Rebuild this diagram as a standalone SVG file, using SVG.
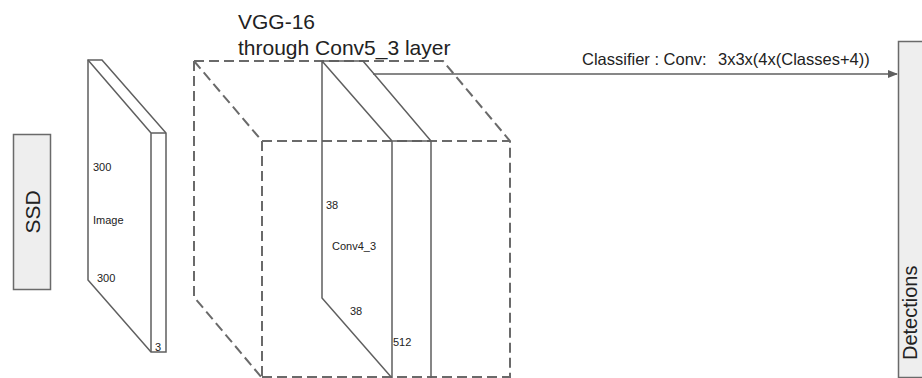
<svg xmlns="http://www.w3.org/2000/svg" width="922" height="378" viewBox="0 0 922 378">
<style>
.ln{fill:none;stroke:#5f5f5f;stroke-width:1.5;stroke-linejoin:miter}
.ds{fill:none;stroke:#6a6a6a;stroke-width:2;stroke-dasharray:10 5}
.box{fill:#eeeeee;stroke:#6a6a6a;stroke-width:1.5}
.t{font-family:"Liberation Sans",Arial,sans-serif;fill:#222}
.s{font-size:11px}
</style>
<defs>
<marker id="ah" markerWidth="10" markerHeight="8" refX="9" refY="4" orient="auto" markerUnits="userSpaceOnUse">
<path d="M0,0 L10,4 L0,8 Z" fill="#5f5f5f"/>
</marker>
</defs>
<rect width="922" height="378" fill="#ffffff"/>

<g id="ssd">
<rect class="box" x="13.5" y="134.5" width="37" height="155"/>
<text class="t" font-size="21" transform="translate(40,212) rotate(-90)" text-anchor="middle">SSD</text>
</g>

<g id="image">
<path class="ln" d="M88,60 L102,60 L166,133 L166,352 L151,352 L88,280 Z"/>
<path class="ln" d="M88,60 L151,133 L166,133 M151,133 L151,352"/>
<text class="t s" x="93" y="171">300</text>
<text class="t s" x="93" y="224">Image</text>
<text class="t s" x="97" y="282">300</text>
<text class="t s" x="155" y="351">3</text>
</g>

<g id="vgg">
<path class="ds" d="M194,61 L443,61 L510,141 L510,378"/>
<path class="ds" d="M194,61 L194,297 L262,378"/>
<path class="ds" d="M194,61 L262,141 L510,141"/>
<path class="ds" d="M262,141 L262,378 M262,377 L510,377"/>
<text class="t" font-size="21" x="238" y="29">VGG-16</text>
<text class="t" font-size="21" x="238" y="55">through Conv5_3 layer</text>
</g>

<g id="conv4_3">
<path class="ln" d="M322,61 L363,61 L431,141 L431,380 M322,61 L392,141 L431,141 M392,141 L392,380 M322,61 L322,298 L392,378"/>
<text class="t s" x="326" y="209">38</text>
<text class="t s" x="332" y="250">Conv4_3</text>
<text class="t s" x="350" y="315">38</text>
<text class="t s" x="393" y="346">512</text>
</g>

<g id="detections">
<rect class="box" x="898.5" y="41.5" width="40" height="336"/>
<text class="t" font-size="20" transform="translate(917,360) rotate(-90)">Detections</text>
</g>

<g id="connectors">
<line class="ln" x1="373" y1="74" x2="897" y2="74" marker-end="url(#ah)"/>
<text class="t" font-size="16.5" x="582" y="65">Classifier : Conv:</text>
<text class="t" font-size="16.5" x="718" y="65">3x3x(4x(Classes+4))</text>
</g>
</svg>
